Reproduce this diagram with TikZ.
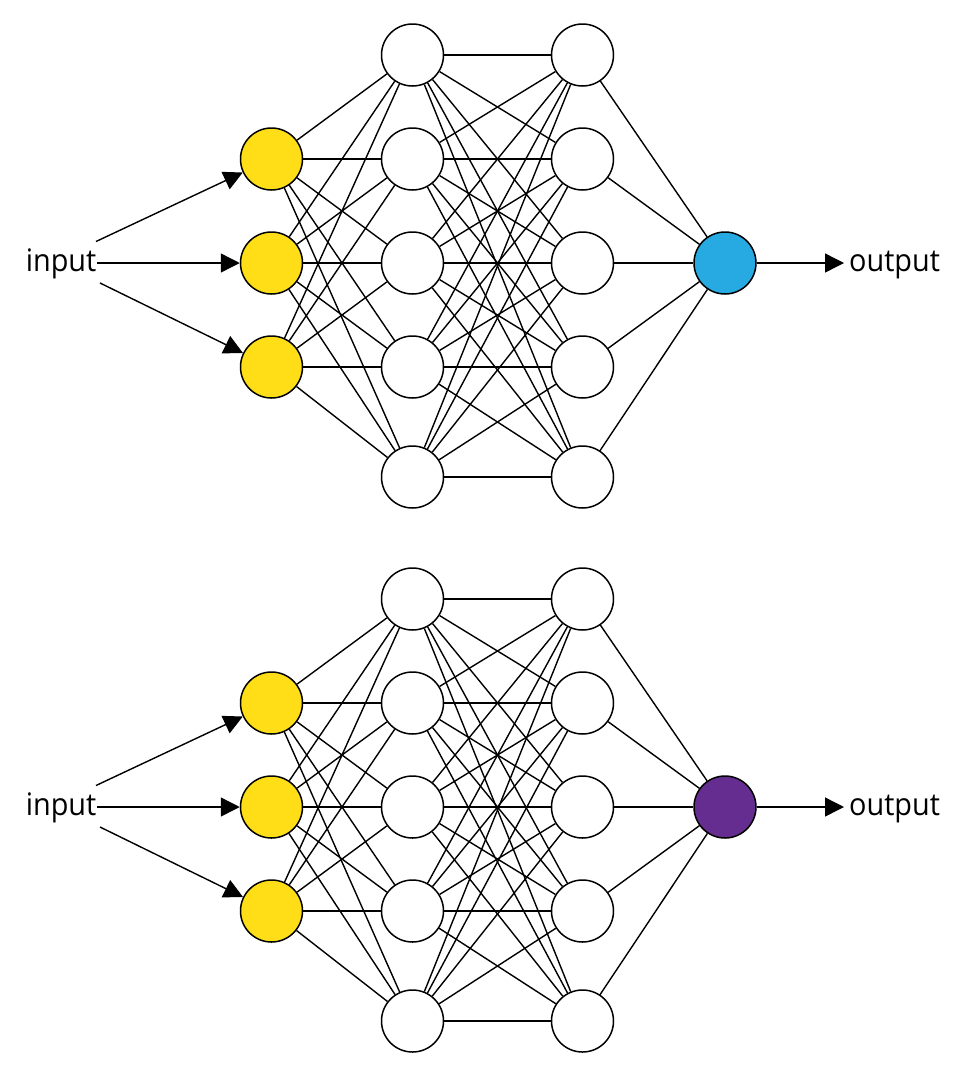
\documentclass[tikz,border=0pt]{standalone}
\usepackage{fontspec}
\newfontfamily\labfont[FakeStretch=0.93]{Open Sans}
\usetikzlibrary{arrows.meta}
\definecolor{inyellow}{HTML}{FFDE17}
\definecolor{outblue}{HTML}{27AAE1}
\definecolor{outpurple}{HTML}{662D91}
\tikzset{
  neuron/.style={circle, draw=black, line width=1.5pt, minimum size=62pt, inner sep=0pt},
  innode/.style={neuron, fill=inyellow},
  hidnode/.style={neuron, fill=white},
  link/.style={line width=1.4pt, black},
  arrowlink/.style={line width=1.4pt, black, -{Triangle[length=19pt,width=19pt]}},
  lab/.style={inner sep=0pt, font=\labfont\fontsize{31}{36}\selectfont}
}
\begin{document}
\begin{tikzpicture}[x=1pt,y=-1pt]
\useasboundingbox (0,0) rectangle (965,1077);
\foreach \net/\dy/\col in {a/0/outblue, b/544/outpurple} {
  \foreach \k/\y in {1/159,2/263,3/367}
    \node[innode] (\net i\k) at (271.5,{\y+\dy}) {};
  \foreach \k/\y in {1/55,2/159,3/263,4/367,5/477}
    \node[hidnode] (\net h\k) at (412.5,{\y+\dy}) {};
  \foreach \k/\y in {1/55,2/159,3/263,4/367,5/477}
    \node[hidnode] (\net g\k) at (582.5,{\y+\dy}) {};
  \node[neuron, fill=\col] (\net o) at (725,{263+\dy}) {};
  \foreach \a in {1,2,3}
    \foreach \b in {1,...,5}
      \draw[link] (\net i\a) -- (\net h\b);
  \foreach \a in {1,...,5}
    \foreach \b in {1,...,5}
      \draw[link] (\net h\a) -- (\net g\b);
  \foreach \a in {1,...,5}
    \draw[link] (\net g\a) -- (\net o);
  \node[lab, anchor=base east] (\net in) at (96.5,{271.5+\dy}) {input};
  \node[lab, anchor=base west] (\net out) at (849,{271+\dy}) {output};
  \coordinate (\net s1) at (96,{241.5+\dy});
  \coordinate (\net s2) at (97,{263+\dy});
  \coordinate (\net s3) at (100,{283+\dy});
  \coordinate (\net e) at (844,{263+\dy});
  \draw[arrowlink] (\net s1) -- (\net i1);
  \draw[arrowlink] (\net s2) -- (\net i2);
  \draw[arrowlink] (\net s3) -- (\net i3);
  \draw[arrowlink] (\net o) -- (\net e);
}
\end{tikzpicture}
\end{document}
